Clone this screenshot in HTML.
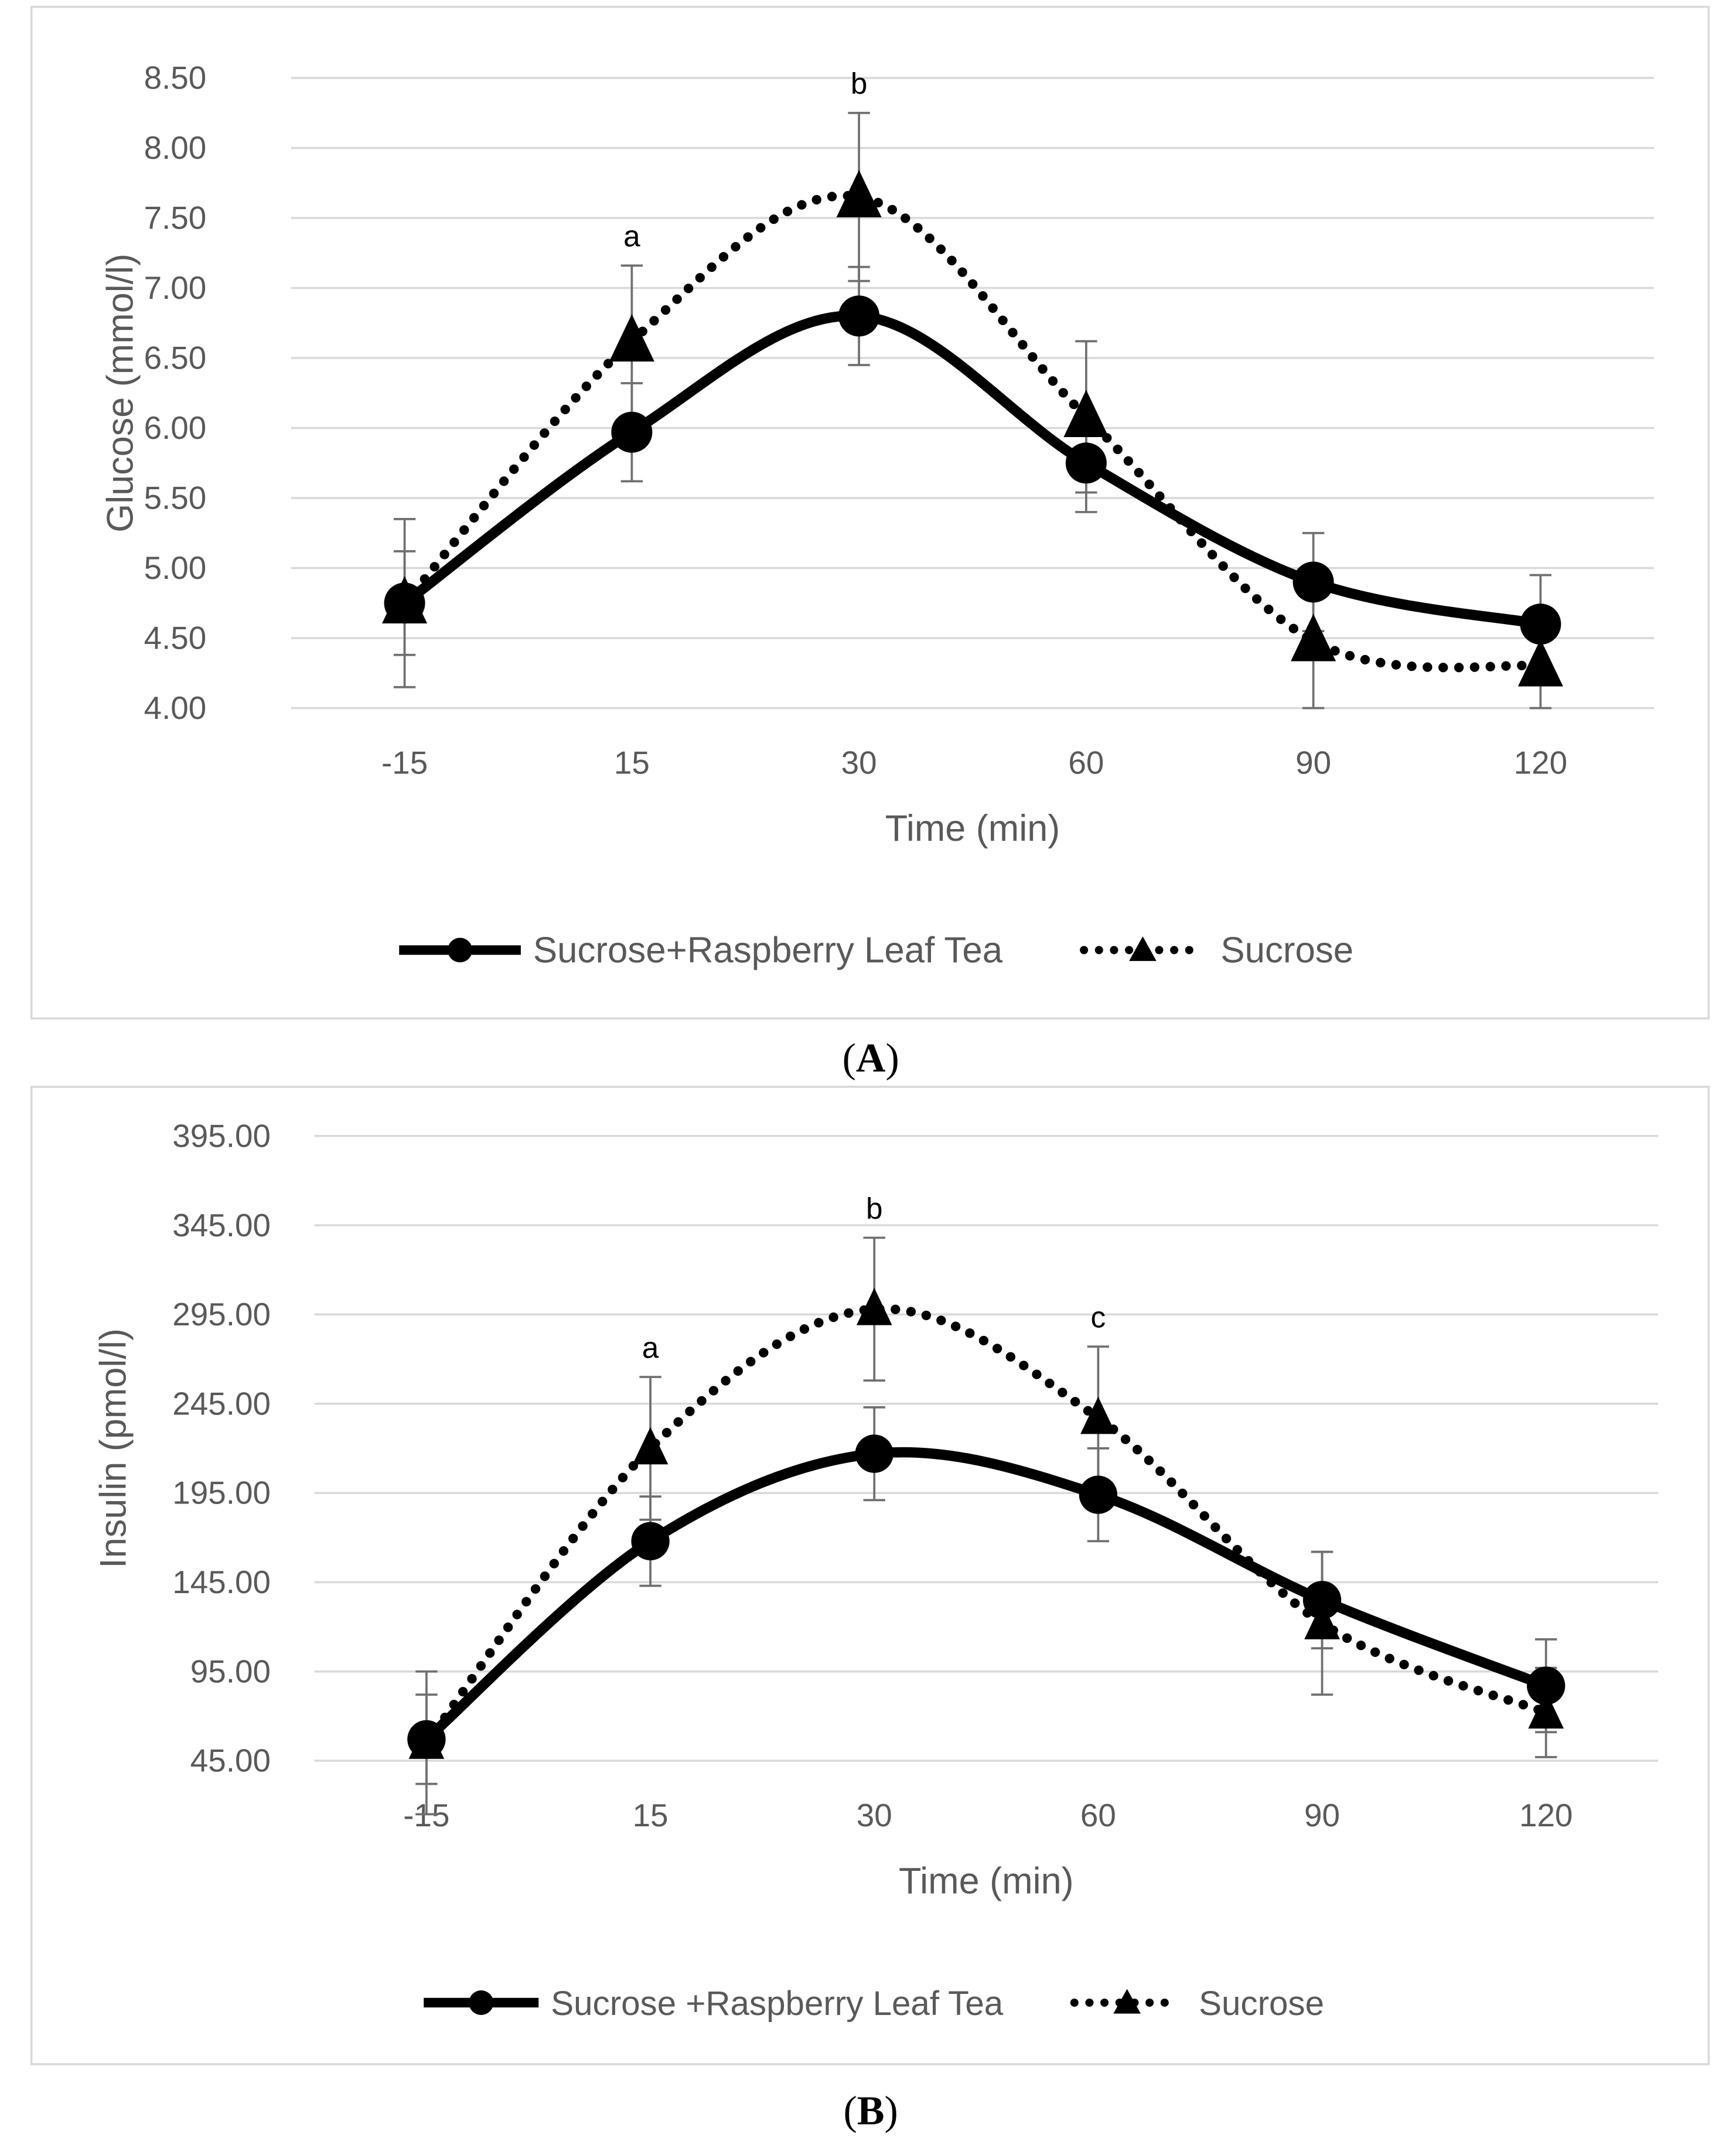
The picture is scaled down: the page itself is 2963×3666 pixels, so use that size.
<!DOCTYPE html>
<html><head><meta charset="utf-8"><style>
html,body{margin:0;padding:0;background:#fff}
svg{display:block}
</style></head><body>
<svg id="svg" xmlns="http://www.w3.org/2000/svg" width="2963" height="3666" viewBox="0 0 1270 1571.3" font-family="Liberation Sans, sans-serif">
<rect x="23" y="5" width="1227" height="740" fill="#fff" stroke="#d9d9d9" stroke-width="1.5"/>
<rect x="23" y="795" width="1227" height="715" fill="#fff" stroke="#d9d9d9" stroke-width="1.5"/>
<text x="637" y="784" style="font-family:'Liberation Serif',serif" font-size="30" text-anchor="middle">(<tspan font-weight="bold">A</tspan>)</text>
<text x="637" y="1554" style="font-family:'Liberation Serif',serif" font-size="30" text-anchor="middle">(<tspan font-weight="bold">B</tspan>)</text>
<g id="ga"></g><g id="gb"></g>
</svg>
<script>
const categories=["-15","15","30","60","90","120"];
const glucoseTea=[4.75,5.97,6.80,5.75,4.90,4.60];
const glucoseTeaErr=[0.37,0.35,0.35,0.35,0.35,0.35];
const glucoseSuc=[4.75,6.62,7.65,6.08,4.48,4.30];
const glucoseSucErr=[0.6,0.54,0.6,0.54,0.48,0.3];
const glucoseTicks=[4.00,4.50,5.00,5.50,6.00,6.50,7.00,7.50,8.00,8.50];
const glucoseLetters=[null,"a","b",null,null,null];
const insulinTea=[57,168,217,194,135,87];
const insulinTeaErr=[25,25,26,26,27,26];
const insulinSuc=[55,220,298,237,122,72];
const insulinSucErr=[40,40,40,40,40,25];
const insulinTicks=[45,95,145,195,245,295,345,395];
const insulinLetters=[null,"a","b","c",null,null];

const NS="http://www.w3.org/2000/svg";
function mk(p,t,a){const e=document.createElementNS(NS,t);for(const k in a)e.setAttribute(k,a[k]);p.appendChild(e);return e;}
function smooth(pts){let d=`M${pts[0][0]},${pts[0][1]}`;for(let i=0;i<pts.length-1;i++){const p0=pts[i-1]||pts[i],p1=pts[i],p2=pts[i+1],p3=pts[i+2]||p2;const c1=[p1[0]+(p2[0]-p0[0])/6,p1[1]+(p2[1]-p0[1])/6],c2=[p2[0]-(p3[0]-p1[0])/6,p2[1]-(p3[1]-p1[1])/6];d+=` C${c1[0]},${c1[1]} ${c2[0]},${c2[1]} ${p2[0]},${p2[1]}`;}return d;}
function chart(g,cfg){
  const x=i=>cfg.x0+i*cfg.dx;
  const ymin=cfg.ticks[0],ymax=cfg.ticks[cfg.ticks.length-1];
  const y=v=>cfg.yb+(v-ymin)/(ymax-ymin)*(cfg.yt-cfg.yb);
  cfg.ticks.forEach(t=>{
    const l=mk(g,"line",{x1:cfg.left,x2:cfg.right,y1:y(t),y2:y(t),stroke:"#d9d9d9","stroke-width":1.5});
    
    
    const tx=mk(g,"text",{x:cfg.tickEnd,y:y(t)+8,"font-size":23.5,fill:"#595959","text-anchor":"end"});
    tx.textContent=t.toFixed(2);
    
    
  });
  categories.forEach((c,i)=>{
    const tx=mk(g,"text",{x:x(i),y:cfg.yb+48,"font-size":23.5,fill:"#595959","text-anchor":"middle"});
    tx.textContent=c;
    
    
  });
  const xt=mk(g,"text",{x:(cfg.left+cfg.right)/2,y:cfg.yb+97,"font-size":27,fill:"#595959","text-anchor":"middle"});
  xt.textContent="Time (min)";
  
  
  const yc=(cfg.yt+cfg.yb)/2;
  const yt=mk(g,"text",{x:cfg.ytx,y:yc,"font-size":27,fill:"#595959","text-anchor":"middle",transform:`rotate(-90 ${cfg.ytx} ${yc})`});
  yt.textContent=cfg.ytitle;
  
  
  function errs(vals,er,name){vals.forEach((v,i)=>{
    const eg=mk(g,"g",{stroke:"#6f6f6f","stroke-width":1.6});
    
    
    const a=Math.min(y(v+er[i]),y(v-er[i])),b=Math.max(y(v+er[i]),y(v-er[i]));
    mk(eg,"line",{x1:x(i),x2:x(i),y1:a,y2:b});
    mk(eg,"line",{x1:x(i)-8,x2:x(i)+8,y1:a,y2:a});
    mk(eg,"line",{x1:x(i)-8,x2:x(i)+8,y1:b,y2:b});
  });}
  errs(cfg.suc,cfg.sucErr,'error-bar-sucrose');
  errs(cfg.tea,cfg.teaErr,'error-bar-tea');
  const sp=mk(g,"path",{d:smooth(cfg.suc.map((v,i)=>[x(i),y(v)])),fill:"none",stroke:"#000","stroke-width":7,"stroke-linecap":"round","stroke-dasharray":"0 11.5"});
  
  
  const tp=mk(g,"path",{d:smooth(cfg.tea.map((v,i)=>[x(i),y(v)])),fill:"none",stroke:"#000","stroke-width":7.5});
  
  
  const ts=cfg.tri;
  cfg.suc.forEach((v,i)=>{
    const px=x(i),py=y(v);
    const t=mk(g,"polygon",{points:`${px},${py-ts*0.6} ${px+ts/2},${py+ts*0.45} ${px-ts/2},${py+ts*0.45}`,fill:"#000"});
    
    
  });
  cfg.tea.forEach((v,i)=>{
    const c=mk(g,"circle",{cx:x(i),cy:y(v),r:cfg.r,fill:"#000"});
    
    
  });
  cfg.letters.forEach((L,i)=>{if(!L)return;
    const tx=mk(g,"text",{x:x(i),y:y(cfg.suc[i]+cfg.sucErr[i])-14,"font-size":22,fill:"#000","text-anchor":"middle"});
    tx.textContent=L;
    
    
  });
  const lg=mk(g,"g",{});
  
  
  const L=cfg.leg;
  mk(lg,"line",{x1:L.a1,x2:L.a2,y1:L.y,y2:L.y,stroke:"#000","stroke-width":7});
  mk(lg,"circle",{cx:(L.a1+L.a2)/2,cy:L.y,r:9,fill:"#000"});
  const t1=mk(lg,"text",{x:L.a2+9,y:L.y+9,"font-size":cfg.legFont,fill:"#595959"});t1.textContent=cfg.legTea;
  
  
  mk(lg,"line",{x1:L.b1,x2:L.b2,y1:L.y,y2:L.y,stroke:"#000","stroke-width":6,"stroke-linecap":"round","stroke-dasharray":"0 11"});
  const bx=(L.b1+L.b2)/2;
  mk(lg,"polygon",{points:`${bx},${L.y-10} ${bx+10},${L.y+8} ${bx-10},${L.y+8}`,fill:"#000"});
  const t2=mk(lg,"text",{x:L.b2+14,y:L.y+9,"font-size":cfg.legFont,fill:"#595959"});t2.textContent="Sucrose";
  
  
}
chart(document.getElementById('ga'),{x0:296,dx:166.2,left:213,right:1210,tickEnd:151,yt:57,yb:518,ticks:glucoseTicks,ytitle:"Glucose (mmol/l)",ytx:97,
  tea:glucoseTea,teaErr:glucoseTeaErr,suc:glucoseSuc,sucErr:glucoseSucErr,letters:glucoseLetters,tri:33,r:15,legFont:26.5,
  leg:{y:695,a1:292,a2:381,b1:793,b2:879},legTea:"Sucrose+Raspberry Leaf Tea"});
chart(document.getElementById('gb'),{x0:312,dx:163.8,left:230,right:1213,tickEnd:198,yt:831,yb:1288,ticks:insulinTicks,ytitle:"Insulin (pmol/l)",ytx:92,
  tea:insulinTea,teaErr:insulinTeaErr,suc:insulinSuc,sucErr:insulinSucErr,letters:insulinLetters,tri:26,r:14,legFont:25,
  leg:{y:1465,a1:310,a2:394,b1:786,b2:863},legTea:"Sucrose +Raspberry Leaf Tea"});
</script>
</body></html>
